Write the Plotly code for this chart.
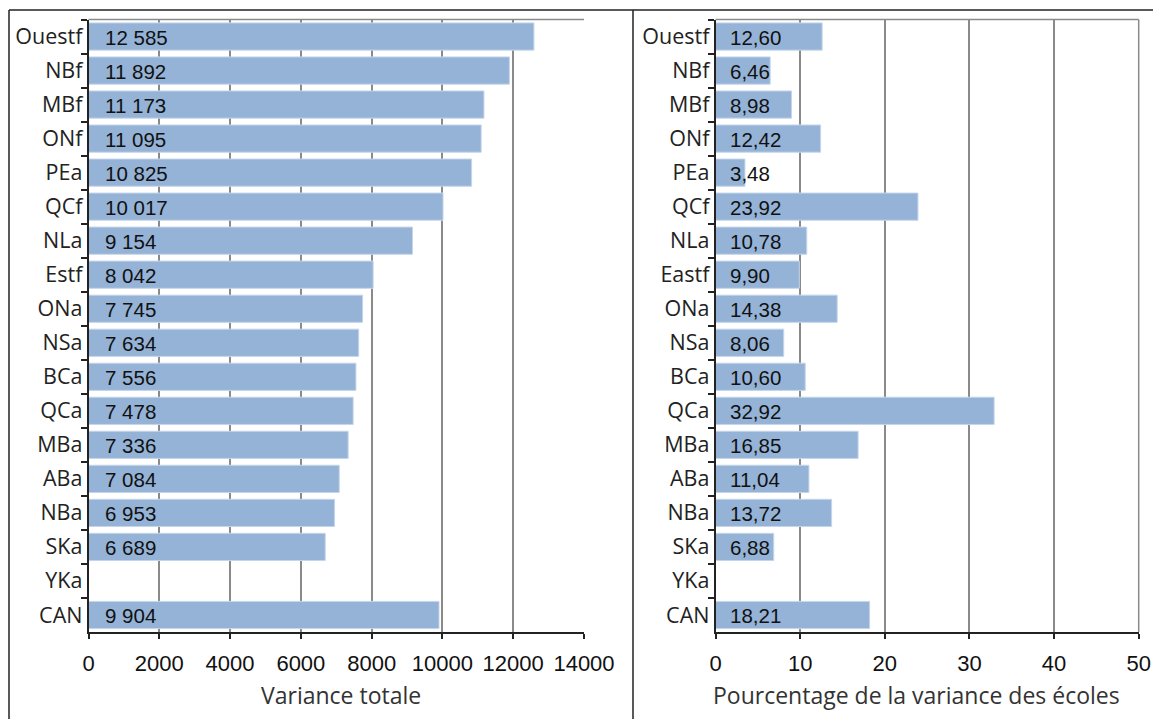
import plotly.graph_objects as go

cats_left = ["Ouestf", "NBf", "MBf", "ONf", "PEa", "QCf", "NLa", "Estf", "ONa", "NSa",
             "BCa", "QCa", "MBa", "ABa", "NBa", "SKa", "YKa", "CAN"]
cats_right = ["Ouestf", "NBf", "MBf", "ONf", "PEa", "QCf", "NLa", "Eastf", "ONa", "NSa",
              "BCa", "QCa", "MBa", "ABa", "NBa", "SKa", "YKa", "CAN"]
variance_totale = [12585, 11892, 11173, 11095, 10825, 10017, 9154, 8042, 7745, 7634,
                   7556, 7478, 7336, 7084, 6953, 6689, None, 9904]
pct_ecoles = [12.60, 6.46, 8.98, 12.42, 3.48, 23.92, 10.78, 9.90, 14.38, 8.06,
              10.60, 32.92, 16.85, 11.04, 13.72, 6.88, None, 18.21]
ticks_left = [0, 2000, 4000, 6000, 8000, 10000, 12000, 14000]
ticks_right = [0, 10, 20, 30, 40, 50]

W, H = 1153, 719
BAR = "#95B3D7"
GRID = "#8a8a8a"
NUMFONT = "Liberation Sans, Arial, sans-serif"
LABFONT = "Open Sans, Noto Sans, sans-serif"

def fmt_left(v):
    return f"{v:,}".replace(",", " ")

def fmt_right(v):
    return f"{v:.2f}".replace(".", ",")

fig = go.Figure()
fig.add_trace(go.Bar(y=cats_left, x=variance_totale, orientation="h",
                     marker=dict(color=BAR, line=dict(color="#C5D6EA", width=1)),
                     xaxis="x", yaxis="y", showlegend=False, hoverinfo="x+y"))
fig.add_trace(go.Bar(y=cats_right, x=pct_ecoles, orientation="h",
                     marker=dict(color=BAR, line=dict(color="#C5D6EA", width=1)),
                     xaxis="x2", yaxis="y2", showlegend=False, hoverinfo="x+y"))

annotations = []
for c, v in zip(cats_left, variance_totale):
    if v is None:
        continue
    annotations.append(dict(x=0, y=c, xref="x", yref="y", text=fmt_left(v), showarrow=False,
                            xanchor="left", yanchor="middle", xshift=14, yshift=-1,
                            font=dict(family=NUMFONT, size=20.5, color="#111")))
for c, v in zip(cats_right, pct_ecoles):
    if v is None:
        continue
    annotations.append(dict(x=0, y=c, xref="x2", yref="y2", text=fmt_right(v), showarrow=False,
                            xanchor="left", yanchor="middle", xshift=12, yshift=-1,
                            font=dict(family=NUMFONT, size=20.5, color="#111")))

annotations.append(dict(x=341 / W, y=1 - 695 / H, xref="paper", yref="paper", text="Variance totale",
                        showarrow=False, xanchor="center", yanchor="middle",
                        font=dict(family=LABFONT, size=23, color="#333")))
annotations.append(dict(x=916 / W, y=1 - 695 / H, xref="paper", yref="paper",
                        text="Pourcentage de la variance des écoles",
                        showarrow=False, xanchor="center", yanchor="middle",
                        font=dict(family=LABFONT, size=23, color="#333")))

ydom = [1 - 632 / H, 1 - 19.5 / H]

common_x = dict(showgrid=True, gridcolor=GRID, gridwidth=1.5, zeroline=False, automargin=False,
                showline=True, linecolor="#222", linewidth=1.5, mirror=False,
                ticks="outside", ticklen=5, tickcolor="#222", tickwidth=1.5, ticklabelstandoff=6,
                tickfont=dict(family=NUMFONT, size=22, color="#111"), fixedrange=True)
common_y = dict(type="category", autorange="reversed", showgrid=False, zeroline=False, automargin=False,
                showline=True, linecolor="#222", linewidth=1.5,
                ticks="outside", ticklen=6, tickcolor="#222", tickwidth=1.5, tickson="boundaries",
                tickfont=dict(family=LABFONT, size=21.5, color="#222"), fixedrange=True)

fig.update_layout(
    width=W, height=H, autosize=False,
    margin=dict(l=0, r=0, t=0, b=0, pad=0),
    paper_bgcolor="white", plot_bgcolor="white",
    bargap=0.2,
    xaxis=dict(domain=[88.5 / W, 584 / W], range=[0, 14000], tickvals=ticks_left,
               ticktext=[str(t) for t in ticks_left], anchor="y", **common_x),
    yaxis=dict(domain=ydom, anchor="x", categoryarray=cats_left, **common_y),
    xaxis2=dict(domain=[715.5 / W, 1138.7 / W], range=[0, 50], tickvals=ticks_right,
                ticktext=[str(t) for t in ticks_right], anchor="y2", **common_x),
    yaxis2=dict(domain=ydom, anchor="x2", categoryarray=cats_right, **common_y),
    annotations=annotations,
    shapes=[
        dict(type="line", xref="paper", yref="paper", x0=88.5 / W, x1=584 / W, y0=ydom[1], y1=ydom[1],
             line=dict(color=GRID, width=1.5)),
        dict(type="line", xref="paper", yref="paper", x0=715.5 / W, x1=1138.7 / W, y0=ydom[1], y1=ydom[1],
             line=dict(color=GRID, width=1.5)),
        dict(type="line", xref="paper", yref="paper", x0=1138.7 / W, x1=1138.7 / W, y0=ydom[0], y1=ydom[1],
             line=dict(color=GRID, width=1.5)),
        dict(type="line", xref="paper", yref="paper", x0=9 / W, x1=1, y0=1 - 10 / H, y1=1 - 10 / H,
             line=dict(color="#222", width=1.5)),
        dict(type="line", xref="paper", yref="paper", x0=9 / W, x1=9 / W, y0=0, y1=1 - 10 / H,
             line=dict(color="#222", width=1.5)),
        dict(type="line", xref="paper", yref="paper", x0=633 / W, x1=633 / W, y0=0, y1=1 - 10 / H,
             line=dict(color="#222", width=1.5)),
    ],
)

fig.write_html("out.html", config={"displayModeBar": False},
               post_script="document.body.style.margin='0';document.body.style.overflow='hidden';")
